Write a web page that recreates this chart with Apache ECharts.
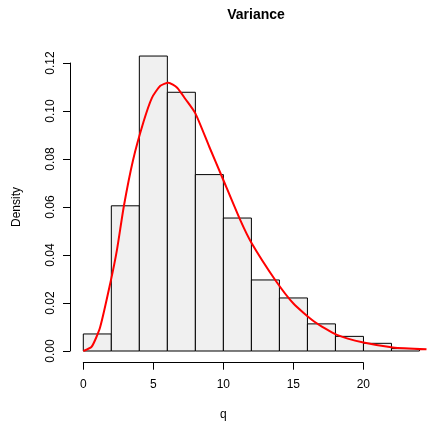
<!DOCTYPE html>
<html>
<head>
<meta charset="utf-8">
<script src="https://cdn.jsdelivr.net/npm/echarts@6/dist/echarts.min.js"></script>
<style>html,body{margin:0;padding:0;background:#fff}#c{width:427px;height:427px}</style>
</head>
<body>
<div id="c"></div>
<script>
// Histogram bins (breaks) and densities
const breaks = [0, 2, 4, 6, 8, 10, 12, 14, 16, 18, 20, 22, 24];
const density = [0.0071, 0.0605, 0.1229, 0.1078, 0.0735, 0.0554, 0.0296, 0.0221, 0.0113, 0.0061, 0.0032, 0.0010];
// Red density curve
const curveX = [0, 0.6, 1.2, 1.95, 2.4, 2.9, 3.55, 4.3, 4.9, 5.5, 6.07, 6.7, 7.3, 8.0, 9.0, 9.9, 11.2, 12.0, 13.7, 15.0, 16.5, 18.1, 20.0, 22.1, 24.5];
const curveY = [0, 0.0018, 0.0099, 0.0289, 0.042, 0.0605, 0.0795, 0.0955, 0.1055, 0.1105, 0.1118, 0.1097, 0.1049, 0.099, 0.085, 0.0726, 0.0546, 0.0451, 0.0296, 0.0198, 0.0122, 0.0067, 0.0035, 0.0015, 0.0007];
const xTicks = [0, 5, 10, 15, 20];
const yTicks = [0, 0.02, 0.04, 0.06, 0.08, 0.10, 0.12];

const histData = density.map((d, i) => [breaks[i], breaks[i + 1], d]);
const curveData = curveX.map((x, i) => [x, curveY[i]]);

const font = 'Liberation Sans, Arial, Helvetica, sans-serif';
const chart = echarts.init(document.getElementById('c'), null, {renderer: 'canvas'});
chart.setOption({
  animation: false,
  backgroundColor: '#fff',
  title: {
    text: 'Variance', left: 251, top: 3, textAlign: 'center',
    textStyle: {fontFamily: font, fontSize: 14, fontWeight: 'bold', color: '#000'}
  },
  grid: [
    {left: 83.3, width: 343.2, top: 39, height: 312},
    {left: 83.3, width: 280, top: 361.7, height: 1},
    {left: 70, width: 1, top: 63, height: 288}
  ],
  xAxis: [
    {gridIndex: 0, type: 'value', min: 0, max: 24.5, show: false},
    {gridIndex: 1, type: 'value', min: xTicks[0], max: xTicks[xTicks.length - 1], interval: 5,
     position: 'bottom',
     axisLine: {show: true, lineStyle: {color: '#000', width: 1}},
     axisTick: {show: true, length: 7, lineStyle: {color: '#000'}},
     axisLabel: {show: true, margin: 16, color: '#000', fontFamily: font, fontSize: 12},
     splitLine: {show: false},
     name: 'q', nameLocation: 'middle', nameGap: 46,
     nameTextStyle: {fontFamily: font, fontSize: 12, color: '#000'}},
    {gridIndex: 2, type: 'value', show: false}
  ],
  yAxis: [
    {gridIndex: 0, type: 'value', min: 0, max: 0.13, show: false},
    {gridIndex: 1, type: 'value', show: false},
    {gridIndex: 2, type: 'value', min: yTicks[0], max: yTicks[yTicks.length - 1], interval: 0.02,
     position: 'left',
     axisLine: {show: true, lineStyle: {color: '#000', width: 1}},
     axisTick: {show: true, length: 7, lineStyle: {color: '#000'}},
     axisLabel: {show: true, rotate: 90, margin: 13.5, color: '#000', fontFamily: font, fontSize: 12,
       align: 'center', verticalAlign: 'bottom',
       formatter: v => v.toFixed(2)},
     splitLine: {show: false},
     name: 'Density', nameLocation: 'middle', nameGap: 47.5, nameRotate: 90,
     nameTextStyle: {fontFamily: font, fontSize: 12, color: '#000'}}
  ],
  series: [
    {
      type: 'custom', xAxisIndex: 0, yAxisIndex: 0,
      data: histData,
      encode: {x: [0, 1], y: 2},
      renderItem: function (params, api) {
        const p0 = api.coord([api.value(0), api.value(2)]);
        const p1 = api.coord([api.value(1), 0]);
        return {
          type: 'rect',
          shape: {x: p0[0], y: p0[1], width: p1[0] - p0[0], height: p1[1] - p0[1]},
          style: {fill: '#f0f0f0', stroke: '#000', lineWidth: 1}
        };
      }
    },
    {
      type: 'line', xAxisIndex: 0, yAxisIndex: 0,
      data: curveData, showSymbol: false, smooth: 0.2,
      lineStyle: {color: '#ff0000', width: 2}
    }
  ]
});
</script>
</body>
</html>
